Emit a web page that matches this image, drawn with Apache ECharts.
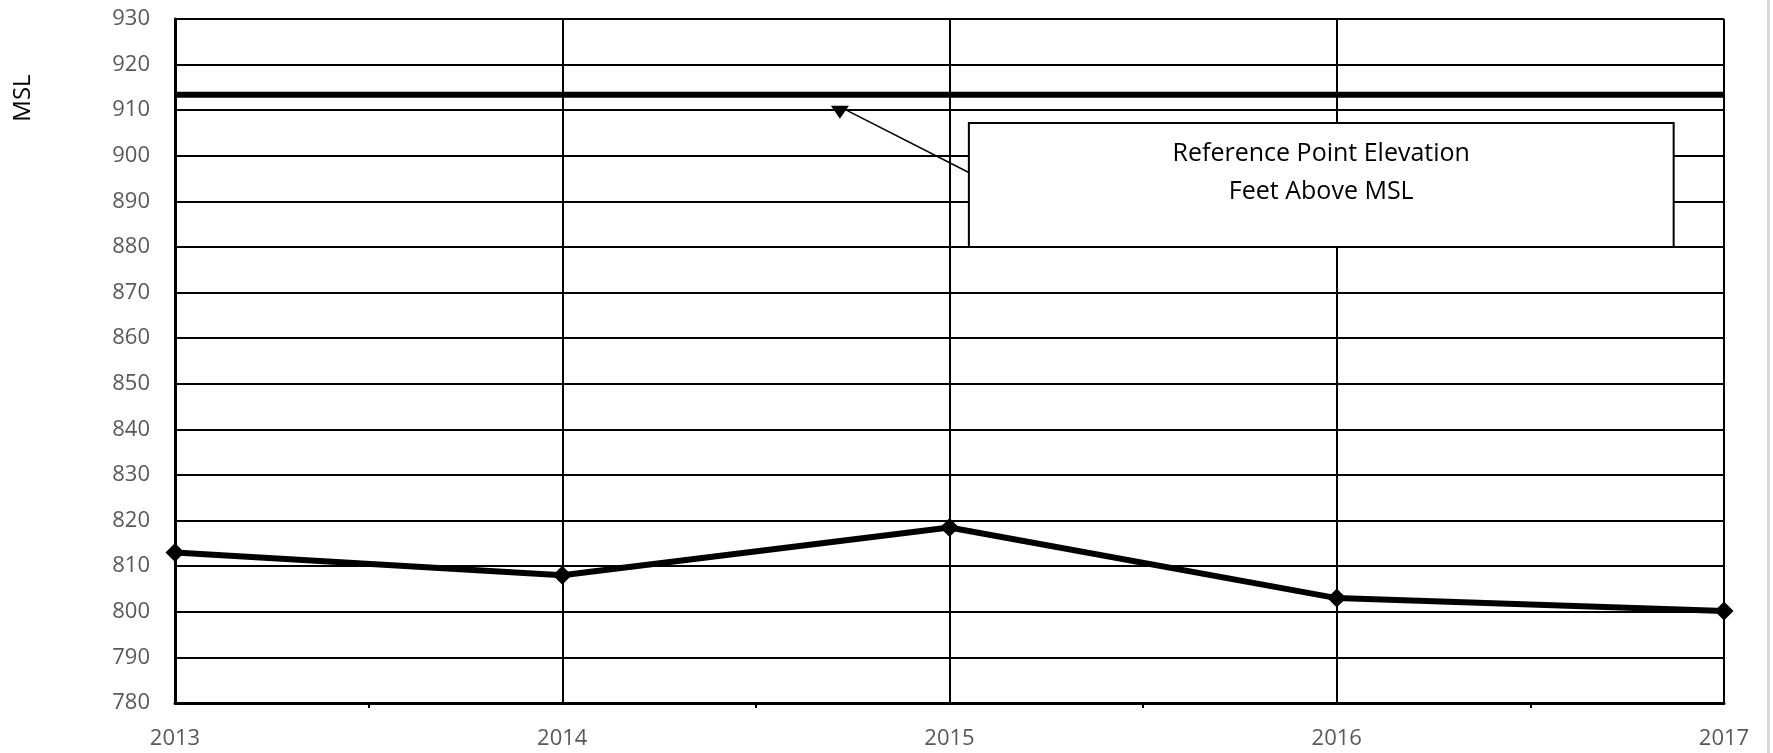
<!DOCTYPE html>
<html>
<head>
<meta charset="utf-8">
<script src="https://cdn.jsdelivr.net/npm/echarts@6/dist/echarts.min.js"></script>
<style>html,body{margin:0;padding:0;background:#fff}#c{width:1773px;height:753px}</style>
</head>
<body>
<div id="c"></div>
<script>
const years = [2013, 2014, 2015, 2016, 2017];
const elevation = [813, 808, 818.5, 803, 800.2];
const referenceElevation = 913.4;
const yTicks = [780, 930, 10];
const annotationLines = ['Reference Point Elevation', 'Feet Above MSL'];
const yAxisTitle = 'MSL';

const FONT = '"Open Sans", "Liberation Sans", sans-serif';
const chart = echarts.init(document.getElementById('c'), null, {renderer: 'canvas'});

const option = {
  animation: false,
  backgroundColor: '#fff',
  grid: {left: 175, top: 19, right: 49, bottom: 50, containLabel: false},
  xAxis: {
    type: 'value', min: years[0], max: years[years.length - 1], interval: 1,
    axisLine: {show: true, lineStyle: {color: '#000', width: 3}},
    axisTick: {show: false},
    minorTick: {show: true, splitNumber: 2, length: 5, lineStyle: {color: '#000', width: 2}},
    splitLine: {show: true, lineStyle: {color: '#000', width: 2}},
    axisLabel: {color: '#595959', fontSize: 22, fontFamily: FONT, margin: 25, formatter: v => String(v)}
  },
  yAxis: {
    type: 'value', min: yTicks[0], max: yTicks[1], interval: yTicks[2],
    axisLine: {show: true, lineStyle: {color: '#000', width: 3}},
    axisTick: {show: false},
    splitLine: {show: true, lineStyle: {color: '#000', width: 2}},
    axisLabel: {color: '#595959', fontSize: 22, fontFamily: FONT, margin: 25}
  },
  series: [
    {
      type: 'line',
      data: [[years[0], referenceElevation], [years[years.length - 1], referenceElevation]],
      symbol: 'none', lineStyle: {color: '#000', width: 6}, z: 3, silent: true
    },
    {
      type: 'line',
      data: years.map((y, i) => [y, elevation[i]]),
      symbol: 'diamond', symbolSize: 19,
      itemStyle: {color: '#000'},
      lineStyle: {color: '#000', width: 6}, z: 4, clip: false
    }
  ]
};
chart.setOption(option);

// Annotation positioned in data coordinates
const p = (x, y) => chart.convertToPixel({gridIndex: 0}, [x, y]);
const boxTL = p(2015.05, 907.2);
const boxBR = p(2016.87, 880);
const arrowStart = p(2015.06, 895.9);
const arrowTip = p(2014.717, 908.1);
const cx = (boxTL[0] + boxBR[0]) / 2;

chart.setOption({
  graphic: [
    {type: 'rect', shape: {x: 1767, y: 0, width: 3, height: 753}, style: {fill: '#d9d9d9'}, z: 1},
    {type: 'text', x: 23, y: 98, rotation: Math.PI / 2,
      style: {text: yAxisTitle, fill: '#000', font: '24px ' + FONT, align: 'center', verticalAlign: 'middle'}, z: 10},
    {type: 'line', shape: {x1: arrowStart[0], y1: arrowStart[1], x2: arrowTip[0] + 4, y2: arrowTip[1] - 10},
      style: {stroke: '#000', lineWidth: 1.5}, z: 10},
    {type: 'polygon', shape: {points: [[arrowTip[0] - 9, arrowTip[1] - 13], [arrowTip[0] + 9, arrowTip[1] - 13], [arrowTip[0], arrowTip[1]]]},
      style: {fill: '#000'}, z: 10},
    {type: 'rect', shape: {x: boxTL[0], y: boxTL[1], width: boxBR[0] - boxTL[0], height: boxBR[1] - boxTL[1]},
      style: {fill: '#fff', stroke: '#000', lineWidth: 2}, z: 10},
    {type: 'text', x: cx, y: boxTL[1] + 31,
      style: {text: annotationLines[0], fill: '#000', font: '25px ' + FONT, align: 'center', verticalAlign: 'middle'}, z: 11},
    {type: 'text', x: cx, y: boxTL[1] + 69,
      style: {text: annotationLines[1], fill: '#000', font: '25px ' + FONT, align: 'center', verticalAlign: 'middle'}, z: 11}
  ]
});
</script>
</body>
</html>
